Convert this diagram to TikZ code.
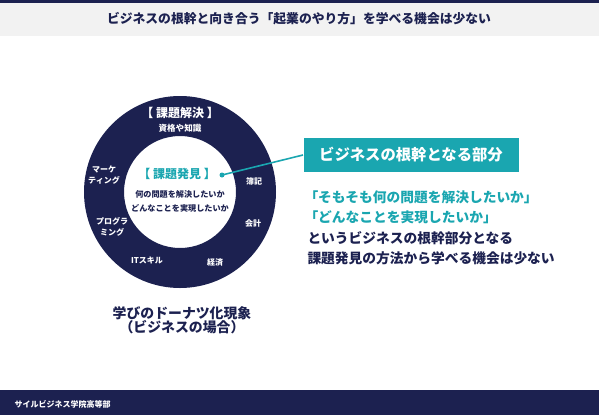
\documentclass[tikz,border=0pt]{standalone}
\usepackage{fontspec}
\setmainfont{Noto Sans CJK JP}
\definecolor{donutnavy}{HTML}{1C2150}
\definecolor{rootteal}{HTML}{1AA6B0}
\definecolor{bandgrey}{HTML}{F2F2F2}

\tikzset{every picture/.style={line width=0.75pt}}
\tikzset{
  ringlabel/.style={text=white, font=\bfseries\fontsize{6}{7.8}\selectfont, align=center, inner sep=0.75pt},
  holelabel/.style={text=donutnavy, font=\bfseries\fontsize{6.1}{10.5}\selectfont, align=center, inner sep=0.75pt},
  bodyline/.style={anchor=west, font=\bfseries\fontsize{10.3}{12}\selectfont, inner sep=0pt}
}

\begin{document}
\begin{tikzpicture}[x=0.75pt,y=0.75pt,yscale=-1,xscale=1]
\useasboundingbox (0,0) rectangle (599,415);

% header and footer bands
\fill [donutnavy] (0,0) rectangle (599,3);
\fill [bandgrey] (0,3) rectangle (599,36);
\fill [donutnavy] (0,390) rectangle (599,415);

\draw (299,19) node [text=donutnavy, font=\bfseries\fontsize{9.6}{11}\selectfont] (title) {ビジネスの根幹と向き合う「起業のやり方」を学べる機会は少ない};
\draw (14,404) node [anchor=west, text=white, font=\bfseries\fontsize{6}{7}\selectfont, inner sep=0pt] (school) {サイルビジネス学院高等部};

% donut
\fill [donutnavy, even odd rule] (180,192) circle (96) (180,192) circle (56);

\draw (180,113) node [ringlabel, font=\bfseries\fontsize{9}{11}\selectfont] (kaiketsu) {【 課題解決 】};
\draw (180,128) node [ringlabel, font=\bfseries\fontsize{6.4}{8}\selectfont] (shikaku) {資格や知識};
\draw (104,175) node [ringlabel] (marketing) {マーケ\\ティング};
\draw (112,227) node [ringlabel] (programming) {プログラ\\ミング};
\draw (147,260) node [ringlabel] (itskill) {ITスキル};
\draw (215,262) node [ringlabel] (keizai) {経済};
\draw (253,223) node [ringlabel] (kaikei) {会計};
\draw (254,181) node [ringlabel] (boki) {簿記};

\draw (177,174) node [text=rootteal, font=\bfseries\fontsize{9}{11}\selectfont] (hakken) {【 課題発見 】};
\draw (180,201) node [holelabel] (toi) {何の問題を解決したいか\\どんなことを実現したいか};

\draw (182,320) node [text=donutnavy, align=center, font=\bfseries\fontsize{10.4}{10.8}\selectfont] (caption) {学びのドーナツ化現象\\（ビジネスの場合）};

% root part
\draw (303,155) node [anchor=west, fill=rootteal, text=white, minimum width=161.25pt, minimum height=25.5pt, font=\bfseries\fontsize{11.5}{13}\selectfont] (root) {ビジネスの根幹となる部分};
\fill [rootteal] (222,175) circle (2.5) coordinate (dot);
\draw [rootteal, line width=1.2] (dot) -- (root.west);

\draw (304,197) node [bodyline, text=rootteal] (q1) {「そもそも何の問題を解決したいか」};
\draw (304,217) node [bodyline, text=rootteal] (q2) {「どんなことを実現したいか」};
\draw (307,238) node [bodyline, text=donutnavy] (l3) {というビジネスの根幹部分となる};
\draw (307,258) node [bodyline, text=donutnavy] (l4) {課題発見の方法から学べる機会は少ない};

\end{tikzpicture}
\end{document}
